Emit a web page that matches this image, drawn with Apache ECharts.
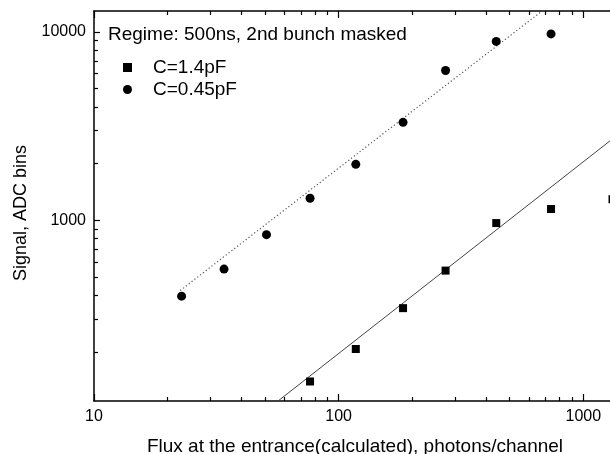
<!DOCTYPE html>
<html>
<head>
<meta charset="utf-8">
<script src="https://cdn.jsdelivr.net/npm/echarts@6/dist/echarts.min.js"></script>
<style>
  html, body { margin: 0; padding: 0; background: #fff; }
  #container { width: 610px; height: 454px; }
</style>
</head>
<body>
<div id="container"></div>
<script>
// flux values (photons/channel), shared by both capacitances
var fluxC045 = [22.8, 34.0, 50.7, 76.4, 117.5, 183.3, 273.5, 440.6, 738];
var signalC045 = [396, 551, 839, 1309, 1982, 3311, 6239, 8894, 9750];
var fluxC14 = [76.4, 117.5, 183.3, 273.5, 440.6, 738, 1316];
var signalC14 = [139.6, 207.6, 342, 541, 967, 1148, 1293];

// fitted straight lines (end points in data units)
var fitC14 = [[54, 105], [1400, 2880]];
var fitC045 = [[22.5, 424], [690, 13130]];

var xMajor = [10, 100, 1000];
var xMinor = [20, 30, 40, 50, 60, 70, 80, 90, 200, 300, 400, 500, 600, 700, 800, 900];
var yMajor = [1000, 10000];
var yMinor = [200, 300, 400, 500, 600, 700, 800, 900, 2000, 3000, 4000, 5000, 6000, 7000, 8000, 9000];

var xRange = [10, 1360];
var yRange = [110, 12900];

var font = '"Liberation Sans", Arial, sans-serif';

function pairs(xs, ys) {
    return xs.map(function (x, i) { return [x, ys[i]]; });
}

function plain(v) {
    return String(Math.round(v));
}

function xAxisDef(grid, pos, ticks, len, labels, showLine) {
    return {
        type: 'log', gridIndex: grid, position: pos,
        min: xRange[0], max: xRange[1],
        axisLine: { show: showLine, onZero: false, lineStyle: { color: '#000', width: 1.5 } },
        axisTick: { show: true, inside: true, length: len, customValues: ticks, lineStyle: { color: '#000', width: 1.2 } },
        axisLabel: labels ? { show: true, customValues: labels, formatter: plain, margin: 8, color: '#000', fontSize: 16, fontFamily: font } : { show: false },
        splitLine: { show: false }
    };
}

function yAxisDef(grid, pos, ticks, len, labels, showLine) {
    return {
        type: 'log', gridIndex: grid, position: pos,
        min: yRange[0], max: yRange[1],
        axisLine: { show: showLine, onZero: false, lineStyle: { color: '#000', width: 1.5 } },
        axisTick: { show: true, inside: true, length: len, customValues: ticks, lineStyle: { color: '#000', width: 1.2 } },
        axisLabel: labels ? { show: true, customValues: labels, formatter: plain, margin: 8, color: '#000', fontSize: 16, fontFamily: font } : { show: false },
        splitLine: { show: false }
    };
}

var bottomX = xAxisDef(0, 'bottom', xMajor, 7, xMajor, true);
bottomX.name = 'Flux at the entrance(calculated), photons/channel';
bottomX.nameLocation = 'middle';
bottomX.nameGap = 36;
bottomX.nameTextStyle = { color: '#000', fontSize: 19, fontFamily: font };

var leftY = yAxisDef(0, 'left', yMajor, 6, yMajor, true);
leftY.name = 'Signal, ADC bins';
leftY.nameLocation = 'middle';
leftY.nameGap = 64;
leftY.nameTextStyle = { color: '#000', fontSize: 18, fontFamily: font, padding: [0, 14, 0, 0] };

var gridBox = { left: 94, top: 11, right: -6, bottom: 53, containLabel: false, outerBoundsMode: 'none' };

var dom = document.getElementById('container');
var myChart = echarts.init(dom, null, { renderer: 'canvas' });
var option = {
    backgroundColor: '#fff',
    animation: false,
    title: {
        text: 'Regime: 500ns, 2nd bunch masked',
        left: 108, top: 25, padding: 0,
        textStyle: { color: '#000', fontSize: 19, fontWeight: 'normal', fontFamily: font }
    },
    legend: {
        orient: 'vertical',
        left: 123, top: 58, padding: 0,
        itemWidth: 9, itemHeight: 9, itemGap: 3,
        data: [
            { name: 'C=1.4pF', icon: 'rect' },
            { name: 'C=0.45pF', icon: 'circle' }
        ],
        itemStyle: { color: '#000', opacity: 1 },
        textStyle: { color: '#000', fontSize: 19, fontFamily: font, padding: [0, 0, 0, 16] }
    },
    grid: [gridBox, gridBox],
    xAxis: [
        bottomX,
        xAxisDef(0, 'top', xMajor, 7, null, true),
        xAxisDef(1, 'bottom', xMinor, 4, null, false),
        xAxisDef(1, 'top', xMinor, 4, null, false)
    ],
    yAxis: [
        leftY,
        yAxisDef(0, 'right', yMajor, 6, null, true),
        yAxisDef(1, 'left', yMinor, 4, null, false),
        yAxisDef(1, 'right', yMinor, 4, null, false)
    ],
    series: [
        {
            name: 'fit 1.4pF', type: 'line', xAxisIndex: 0, yAxisIndex: 0,
            data: fitC14, showSymbol: false, silent: true, clip: true,
            lineStyle: { color: '#444', width: 1, type: 'solid' }, z: 1
        },
        {
            name: 'fit 0.45pF', type: 'line', xAxisIndex: 0, yAxisIndex: 0,
            data: fitC045, showSymbol: false, silent: true, clip: true,
            lineStyle: { color: '#555', width: 1.2, type: [1.2, 2.4] }, z: 1
        },
        {
            name: 'C=1.4pF', type: 'scatter', xAxisIndex: 0, yAxisIndex: 0,
            symbol: 'rect', symbolSize: 8,
            itemStyle: { color: '#000', opacity: 1 },
            data: pairs(fluxC14, signalC14), z: 3
        },
        {
            name: 'C=0.45pF', type: 'scatter', xAxisIndex: 0, yAxisIndex: 0,
            symbol: 'circle', symbolSize: 9,
            itemStyle: { color: '#000', opacity: 1 },
            data: pairs(fluxC045, signalC045), z: 3
        }
    ]
};
if (option && typeof option === "object") {
    myChart.setOption(option, true);
}
</script>
</body>
</html>
